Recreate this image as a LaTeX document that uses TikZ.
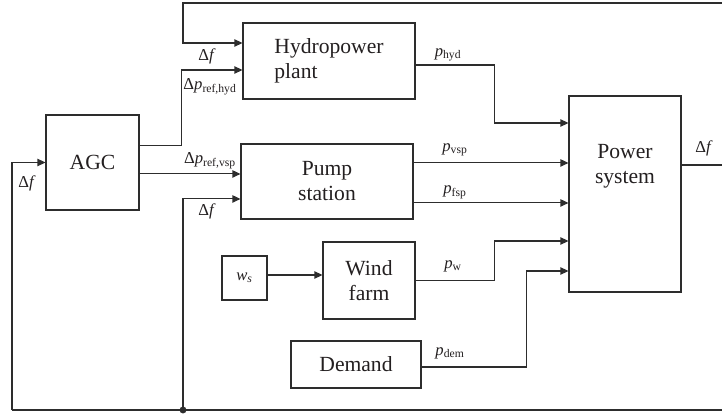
\documentclass[tikz,border=0pt]{standalone}
\usepackage{fontspec}
\setmainfont{Liberation Serif}
\usetikzlibrary{arrows.meta}
\definecolor{linec}{RGB}{45,45,45}
\definecolor{txtc}{RGB}{35,31,32}
\begin{document}
\begin{tikzpicture}[x=0.75pt,y=-0.75pt,
  box/.style={draw=linec, line width=0.8pt, rectangle, inner sep=0pt, text=txtc,
    font=\fontsize{16.2}{18.75}\selectfont, align=center},
  conn/.style={draw=linec, line width=0.8pt},
  arr/.style={conn, -{Triangle[length=6pt,width=5.5pt]}},
  lab/.style={font=\fontsize{12.5}{15}\selectfont, inner sep=0pt, text=txtc}]
\useasboundingbox (0,0) rectangle (722,417);

% blocks
\node[box, minimum width=129pt, minimum height=57pt, align=left] (hyd) at (329,61) {Hydropower\\plant};
\node[box, minimum width=69.75pt, minimum height=71.25pt] (agc) at (92.5,162.5) {AGC};
\node[box, minimum width=129pt, minimum height=56.25pt] (pump) at (327,181.5) {Pump\\station};
\node[box, minimum width=33.75pt, minimum height=33pt, font=\fontsize{12.5}{14}\selectfont] (ws) at (244.5,278) {\textit{w}\textsubscript{\textit{s}}};
\node[box, minimum width=69pt, minimum height=57.75pt] (wind) at (369,280.5) {Wind\\farm};
\node[box, minimum width=97.5pt, minimum height=35.25pt] (dem) at (356,364.5) {Demand};
\node[box, minimum width=84pt, minimum height=147pt] (ps) at (625,194) {};
\node[font=\fontsize{16.2}{18.75}\selectfont, align=center, text=txtc, inner sep=0pt] (pstext) at (625,166) {Power\\system};

% free ends
\coordinate (top) at (183,3);
\coordinate (topR) at (722,3);
\coordinate (jn) at (183,410);
\coordinate (botL) at (12,410);
\coordinate (botR) at (722,410);

% feedback lines
\draw[arr] (topR) -- (top) |- ([yshift=13.5pt]hyd.west);
\draw[conn] (botL) -- (botR);
\draw[arr] (botL) |- (agc.west);
\draw[arr] (jn) |- ([yshift=-13.1pt]pump.west);
\fill[linec] (jn) circle (2.6pt);

% AGC outputs
\draw[arr] ([yshift=12.4pt]agc.east) -- ++(42,0) |- ([yshift=-6.75pt]hyd.west);
\draw[arr] ([yshift=-8.6pt]agc.east) coordinate (v1) -- (v1 -| pump.west);

% wind speed
\draw[arr] ([yshift=2.25pt]ws.east) coordinate (w1) -- (w1 -| wind.west);

% inputs to power system
\draw[arr] ([yshift=-3pt]hyd.east) -- ++(79,0) |- ([yshift=53.25pt]ps.west);
\draw[arr] ([yshift=13.9pt]pump.east) coordinate (a1) -- (a1 -| ps.west);
\draw[arr] ([yshift=-16.1pt]pump.east) coordinate (a2) -- (a2 -| ps.west);
\draw[arr] (wind.east) -- ++(79,0) |- ([yshift=-35.25pt]ps.west);
\draw[arr] ([yshift=-1.9pt]dem.east) -- ++(105,0) |- ([yshift=-57.75pt]ps.west);

% output
\draw[conn] ([yshift=21.75pt]ps.east) coordinate (o1) -- (o1 -| topR);

% labels
\node[lab] (l1) at (207,56) {Δ\textit{f}};
\node[lab] (l2) at (210,87) {Δ\textit{p}\textsubscript{ref,hyd}};
\node[lab] (l3) at (210,161) {Δ\textit{p}\textsubscript{ref,vsp}};
\node[lab] (l4) at (207,211) {Δ\textit{f}};
\node[lab] (l5) at (27,183) {Δ\textit{f}};
\node[lab] (l6) at (448,55) {\textit{p}\textsubscript{hyd}};
\node[lab] (l7) at (455,150) {\textit{p}\textsubscript{vsp}};
\node[lab] (l8) at (455,192) {\textit{p}\textsubscript{fsp}};
\node[lab] (l9) at (453,266) {\textit{p}\textsubscript{w}};
\node[lab] (l10) at (450,353) {\textit{p}\textsubscript{dem}};
\node[lab] (l11) at (704,148) {Δ\textit{f}};
\end{tikzpicture}
\end{document}
